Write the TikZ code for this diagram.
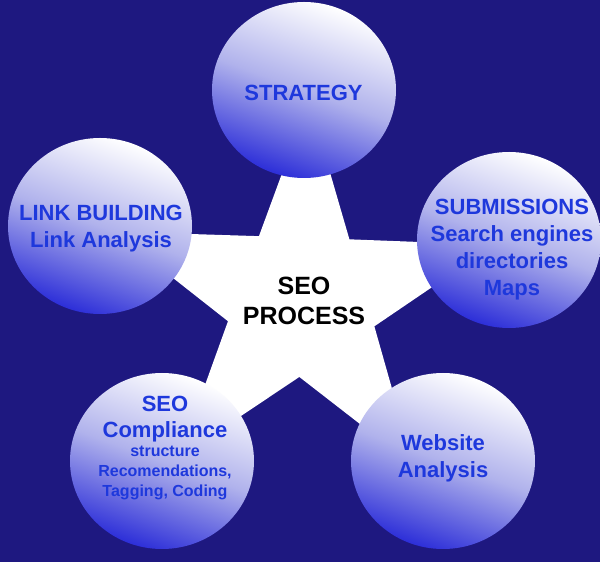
\documentclass[tikz,border=0pt]{standalone}
\usepackage{fontspec}
\setmainfont{Liberation Sans}
\usetikzlibrary{shapes.geometric}
\definecolor{bgnavy}{RGB}{30,24,128}
\definecolor{txtblue}{RGB}{30,56,220}
\definecolor{ballbot}{RGB}{44,46,216}
\definecolor{ballmid}{RGB}{176,178,236}
\begin{document}
\begin{tikzpicture}[x=1pt,y=1pt,
  ball/.style={ellipse, minimum width=184pt, minimum height=176pt, inner sep=0pt,
    draw=none, top color=white, bottom color=ballbot, middle color=ballmid, shading angle=-20},
  balltext/.style={text=txtblue, font=\bfseries\fontsize{22}{27}\selectfont, align=center, inner sep=0pt},
  smalltext/.style={text=txtblue, font=\bfseries\fontsize{16}{20}\selectfont, align=center, inner sep=0pt},
  centertext/.style={text=black, font=\bfseries\fontsize{25}{30}\selectfont, align=center, inner sep=0pt}]
\fill[bgnavy] (0,0) rectangle (600,562);
\useasboundingbox (0,0) rectangle (600,562);
% star
\coordinate (starc) at (302,262);
\fill[white, shift={(starc)}] (88:200) -- (124:77) -- (160:200) -- (196:77) -- (232:200)
  -- (268:77) -- (304:200) -- (340:77) -- (16:200) -- (52:77) -- cycle;
\node[centertext] (process) at (304,261.5) {SEO\\PROCESS};
% circles
\node[ball] (strategy) at (304,472) {};
\node[ball] (link) at (100,336) {};
\node[ball] (sub) at (509,322) {};
\node[ball] (comp) at (162,101) {};
\node[ball] (web) at (443,101) {};
% texts
\node[balltext] (strategyt) at (303.5,469.5) {STRATEGY};
\node[balltext] (linkt) at (101,333) {LINK BUILDING\\Link Analysis};
\node[balltext] (subt) at (512,312) {SUBMISSIONS\\Search engines\\directories\\Maps};
\node[balltext, font=\bfseries\fontsize{22}{26}\selectfont] (compt) at (165,143) {SEO\\Compliance};
\node[smalltext] (compd) at (165,89) {structure\\Recomendations,\\Tagging, Coding};
\node[balltext] (webt) at (443,104) {Website\\Analysis};
\end{tikzpicture}
\end{document}
